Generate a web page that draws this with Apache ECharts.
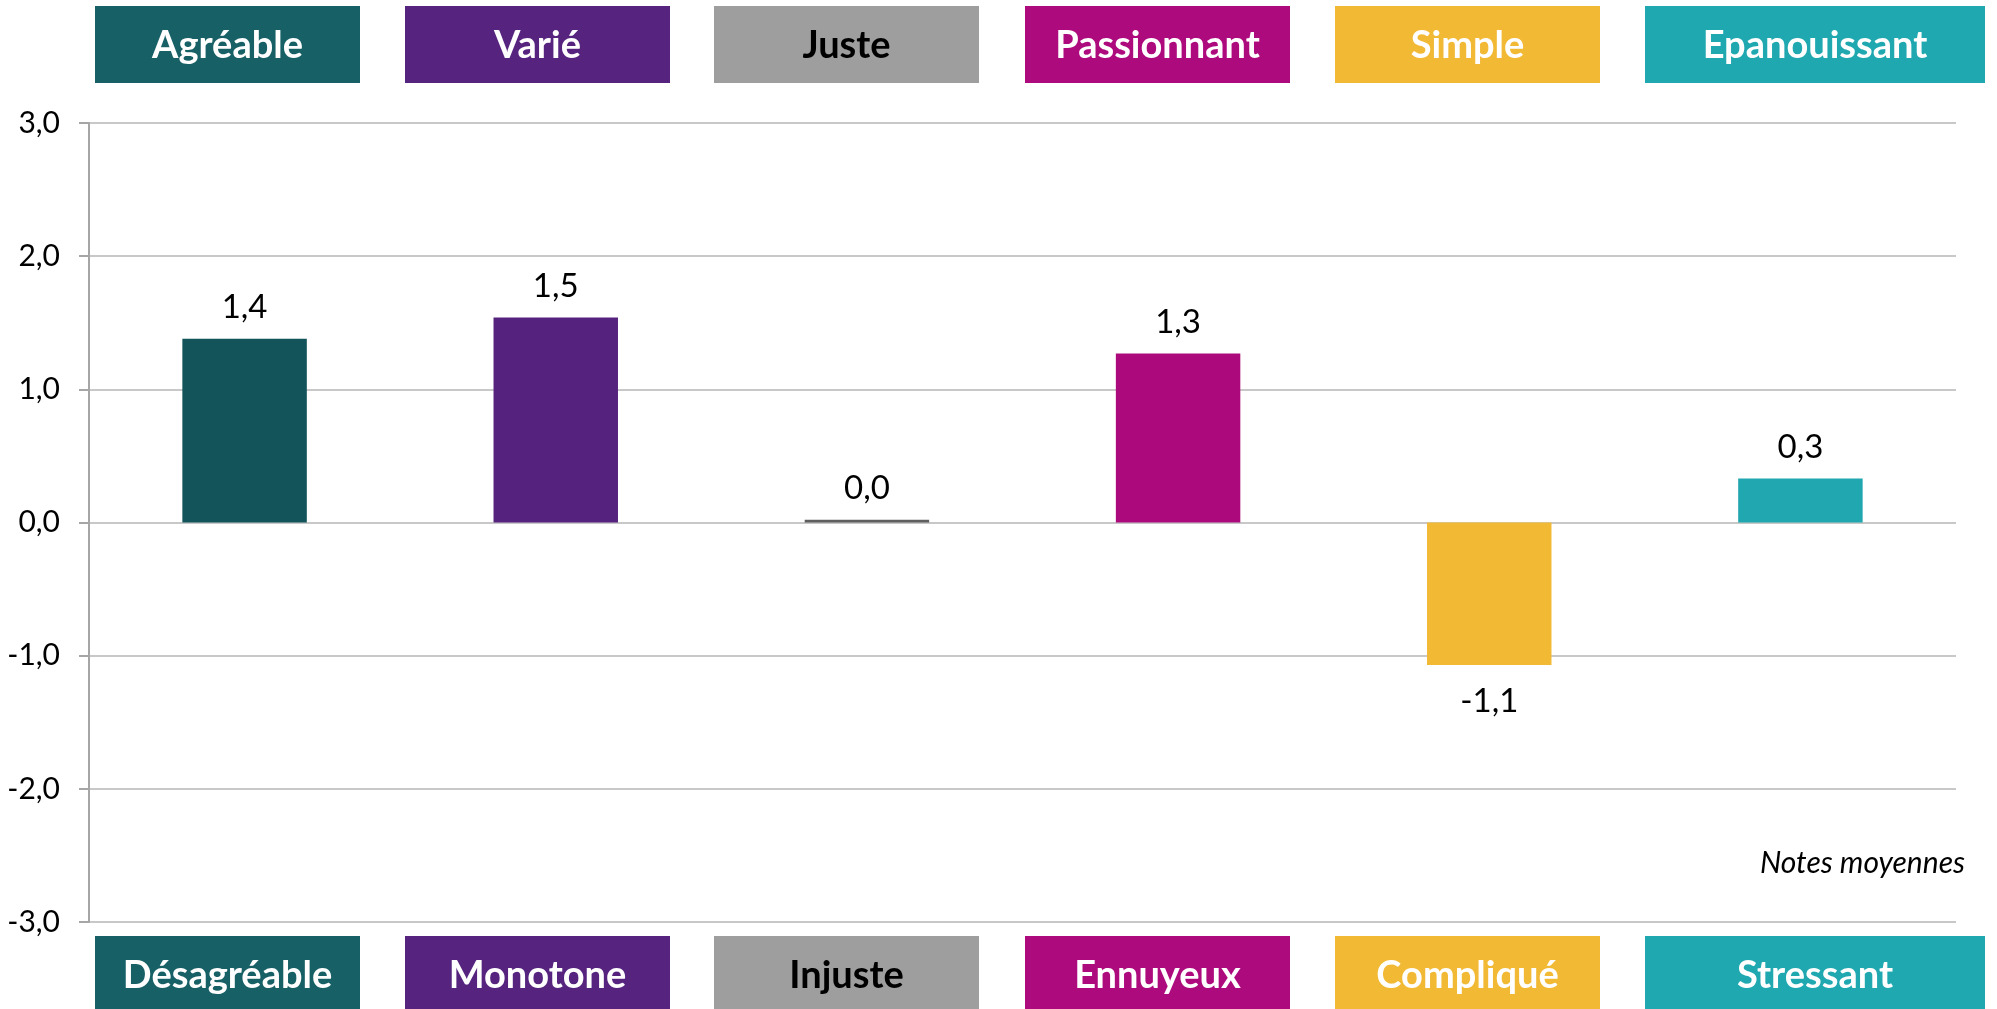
<!DOCTYPE html>
<html>
<head>
<meta charset="utf-8">
<script src="https://cdn.jsdelivr.net/npm/echarts@6/dist/echarts.min.js"></script>
<style>
  html, body { margin: 0; padding: 0; background: #fff; }
  #chart { width: 1997px; height: 1009px; }
</style>
</head>
<body>
<div id="chart"></div>
<script>
// Pairs of opposite adjectives, positive on top, negative below
const positiveLabels = ['Agréable', 'Varié', 'Juste', 'Passionnant', 'Simple', 'Epanouissant'];
const negativeLabels = ['Désagréable', 'Monotone', 'Injuste', 'Ennuyeux', 'Compliqué', 'Stressant'];
// Average scores per pair
const scores = [1.38, 1.54, 0.02, 1.27, -1.07, 0.33];
// Y axis range and step
const yMin = -3;
const yMax = 3;
const yStep = 1;

// Palette
const boxColors = ['#176066', '#56247f', '#9e9e9e', '#ad0a7e', '#f2b935', '#20a8b1'];
const boxTextColors = ['#ffffff', '#ffffff', '#000000', '#ffffff', '#ffffff', '#ffffff'];
const barColors = ['#13545a', '#55237e', '#5f5f5f', '#ac0a7c', '#f2b935', '#21a7b0'];

// Header / footer box layout
const boxLefts = [95, 405, 714, 1025, 1335, 1645];
const boxWidths = [265, 265, 265, 265, 265, 340];
const boxHeight = 77;
const topBoxY = 6;
const bottomBoxY = 936;

const fmt = v => v.toFixed(1).replace('.', ',');

function makeBox(x, y, w, text, fill, textColor) {
  return {
    type: 'group',
    x: x, y: y,
    children: [
      { type: 'rect', shape: { x: 0, y: 0, width: w, height: boxHeight }, style: { fill: fill } },
      {
        type: 'text',
        x: w / 2, y: boxHeight / 2 + 1,
        style: {
          text: text, fill: textColor,
          font: 'bold 38px Lato',
          align: 'center', verticalAlign: 'middle'
        }
      }
    ]
  };
}

const graphics = [];
positiveLabels.forEach((t, i) => graphics.push(makeBox(boxLefts[i], topBoxY, boxWidths[i], t, boxColors[i], boxTextColors[i])));
negativeLabels.forEach((t, i) => graphics.push(makeBox(boxLefts[i], bottomBoxY, boxWidths[i], t, boxColors[i], boxTextColors[i])));
graphics.push({
  type: 'text',
  right: 32, top: 848,
  style: { text: 'Notes moyennes', fill: '#000', font: 'italic 30px Lato', align: 'right' }
});

const chart = echarts.init(document.getElementById('chart'), null, { renderer: 'canvas' });
chart.setOption({
  animation: false,
  backgroundColor: '#ffffff',
  grid: { left: 89, right: 41, top: 123, bottom: 87, containLabel: false },
  xAxis: {
    type: 'category',
    data: positiveLabels,
    axisLine: { show: false },
    axisTick: { show: false },
    axisLabel: { show: false },
    splitLine: { show: false }
  },
  yAxis: {
    type: 'value',
    min: yMin, max: yMax, interval: yStep,
    axisLine: { show: true, lineStyle: { color: '#a6a6a6', width: 2 } },
    axisTick: { show: true, length: 10, lineStyle: { color: '#a6a6a6', width: 2 } },
    axisLabel: {
      formatter: v => fmt(v),
      margin: 29,
      fontFamily: 'Lato', fontSize: 30, color: '#000'
    },
    splitLine: { show: true, lineStyle: { color: '#c8c8c8', width: 2 } }
  },
  series: [{
    type: 'bar',
    barWidth: '40%',
    data: scores.map((v, i) => ({
      value: v,
      itemStyle: { color: barColors[i] },
      label: { position: v < 0 ? 'bottom' : 'top', distance: v < 0 ? 20 : 15 }
    })),
    label: {
      show: true,
      formatter: p => fmt(p.value),
      fontFamily: 'Lato', fontSize: 33, color: '#000'
    }
  }],
  graphic: graphics
});
</script>
</body>
</html>
